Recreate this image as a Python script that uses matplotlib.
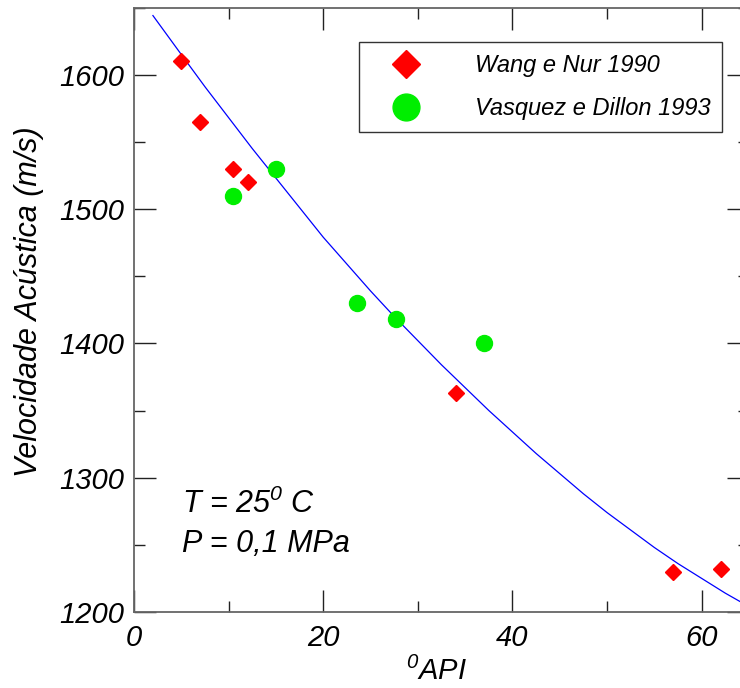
import matplotlib
matplotlib.use("Agg")
import matplotlib.pyplot as plt
from matplotlib.ticker import MultipleLocator

plt.rcParams['font.family'] = ['Liberation Sans', 'DejaVu Sans']
plt.rcParams['font.style'] = 'italic'
plt.rcParams['mathtext.fontset'] = 'custom'
plt.rcParams['mathtext.rm'] = 'Liberation Sans:italic'
plt.rcParams['mathtext.it'] = 'Liberation Sans:italic'

# Data
wang_api = [5, 7, 10.5, 12, 34, 57, 62]
wang_vel = [1610, 1565, 1530, 1520, 1363, 1230, 1232]
vasq_api = [10.5, 15, 23.6, 27.7, 37]
vasq_vel = [1510, 1530, 1430, 1418, 1400]
curve_api = [2, 5, 7.5, 10, 12.5, 15, 17.5, 20, 22.5, 25, 27.5, 30, 32.5, 35,
             37.5, 40, 42.5, 45, 47.5, 50, 52.5, 55, 57.5, 60, 62.5, 65]
curve_vel = [1644, 1615, 1591, 1568, 1545, 1523, 1501, 1479, 1459, 1439, 1420,
             1402, 1384, 1367, 1350, 1334, 1318, 1303, 1288, 1274, 1261, 1248,
             1236, 1225, 1214, 1204]

W, H = 740, 688
fig = plt.figure(figsize=(W / 100, H / 100), dpi=100)
ax = fig.add_axes([134 / W, 1 - 612 / H, 615 / W, (612 - 7.5) / H])

ax.plot(curve_api, curve_vel, color='#0000FF', lw=0.9, zorder=2)
ax.plot(wang_api, wang_vel, linestyle='none', marker='D', ms=8.3,
        color='#FF0000', mec='#FF0000', label='Wang e Nur 1990', zorder=3)
ax.plot(vasq_api, vasq_vel, linestyle='none', marker='o', ms=11.5,
        color='#00EE00', mec='#00EE00', label='Vasquez e Dillon 1993', zorder=3)

ax.set_xlim(0, 65)
ax.set_ylim(1200, 1650)
ax.xaxis.set_major_locator(MultipleLocator(20))
ax.xaxis.set_minor_locator(MultipleLocator(10))
ax.yaxis.set_major_locator(MultipleLocator(100))
ax.yaxis.set_minor_locator(MultipleLocator(50))

ax.tick_params(which='both', direction='in', top=True, right=True,
               color='#222222', labelcolor='black')
ax.tick_params(which='major', length=16, width=1.0, labelsize=21)
ax.tick_params(which='minor', length=8, width=1.0)
ax.tick_params(axis='x', which='major', pad=9)
ax.tick_params(axis='y', which='major', pad=7)
for lab in ax.get_xticklabels() + ax.get_yticklabels():
    lab.set_fontstyle('italic')
for s in ax.spines.values():
    s.set_color('#666666')
    s.set_linewidth(1.3)

fig.text(29 / W, 1 - 302 / H, 'Velocidade Acústica (m/s)', rotation=90,
         ha='center', va='center', fontsize=22, style='italic')
fig.text(437 / W, 1 - 680 / H, '$^{0}$API', ha='center', va='baseline',
         fontsize=21, style='italic')

fig.text(182 / W, 1 - 513 / H, 'T = 25$^{0}$ C', ha='left', va='baseline',
         fontsize=22, style='italic')
fig.text(182 / W, 1 - 552 / H, 'P = 0,1 MPa', ha='left', va='baseline',
         fontsize=22, style='italic')

leg = ax.legend(loc='upper left', bbox_to_anchor=(359 / W, 1 - 42 / H),
                bbox_transform=fig.transFigure, borderaxespad=0,
                prop={'size': 17, 'style': 'italic'}, markerscale=1.68,
                handlelength=3.0, handletextpad=1.4, borderpad=0.5,
                labelspacing=0.85, fancybox=False, framealpha=1,
                edgecolor='#333333')
leg.get_frame().set_linewidth(1.0)

fig.savefig('out.png', dpi=100)
